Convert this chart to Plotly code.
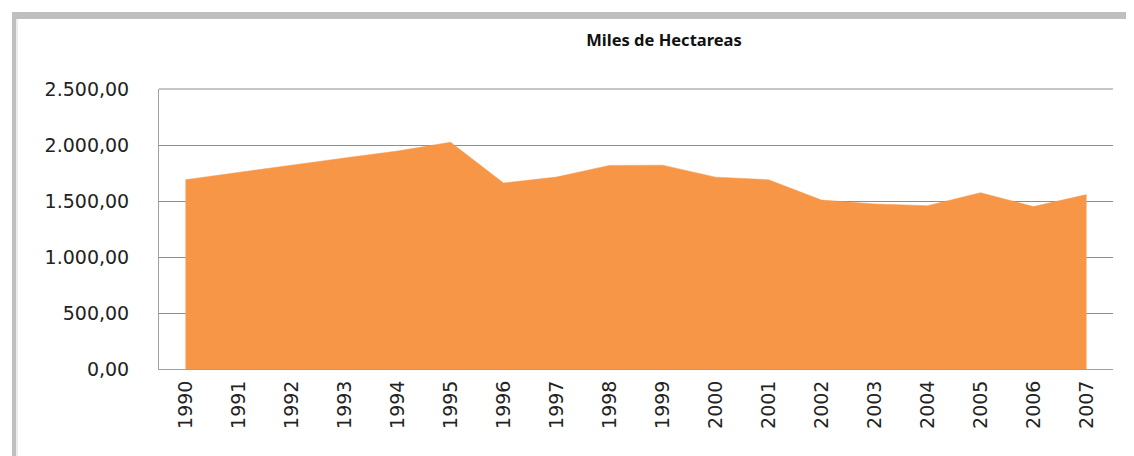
import plotly.graph_objects as go

years = [str(y) for y in range(1990, 2008)]
hectareas = [1690, 1757, 1820, 1884, 1946, 2025, 1660, 1714, 1818, 1820,
             1713, 1690, 1508, 1474, 1458, 1574, 1450, 1557]
y_ticks = [0, 500, 1000, 1500, 2000, 2500]

OFF = 8  # page body margin
W, H = 1134 - OFF, 456 - OFF
L, R, T, B = 159 - OFF, 1113 - OFF, 89 - OFF, 369 - OFF


def px(x):
    return (x - OFF - L) / (R - L)


def py(y):
    return (B - (y - OFF)) / (B - T)


fig = go.Figure()
fig.add_trace(go.Scatter(
    x=years, y=hectareas, mode="lines", fill="tozeroy",
    fillcolor="#F79646", line=dict(color="#F79646", width=0.5),
    hoverinfo="x+y", showlegend=False,
))

grey = "#BFBFBF"
shapes = [
    dict(type="rect", xref="paper", yref="paper", x0=px(12), x1=px(1140),
         y0=py(19), y1=py(12), fillcolor=grey, line=dict(width=0), layer="below"),
    dict(type="rect", xref="paper", yref="paper", x0=px(12), x1=px(16),
         y0=py(460), y1=py(12), fillcolor=grey, line=dict(width=0), layer="below"),
    dict(type="rect", xref="paper", yref="paper", x0=px(16.5), x1=px(17.5),
         y0=py(460), y1=py(19), fillcolor="#D9D9D9", line=dict(width=0), layer="below"),
]

fig.update_layout(
    width=W, height=H,
    margin=dict(l=L, r=W - R, t=T, b=H - B, pad=0),
    paper_bgcolor="white", plot_bgcolor="white",
    separators=",.",
    font=dict(family="DejaVu Sans, Noto Sans", size=19, color="#222222"),
    title=dict(text="<b>Miles de Hectareas</b>", x=(664 - OFF) / W, xref="container",
               xanchor="center",
               y=1 - (40 - OFF) / H, yanchor="middle", yref="container",
               font=dict(family="Noto Sans, Open Sans", size=16.5, color="#111111")),
    shapes=shapes,
    xaxis=dict(type="category", range=[-0.5, len(years) - 0.5], tickangle=-90,
               showgrid=False, showline=True, linecolor="#A0A0A0", linewidth=1,
               ticks="", ticklabelstandoff=3, fixedrange=True),
    yaxis=dict(range=[0, 2500], tickvals=y_ticks, tickformat=",.2f",
               showgrid=True, gridcolor="#8C8C8C", gridwidth=1,
               showline=True, linecolor="#A0A0A0", linewidth=1,
               zeroline=False, ticks="", ticklabelstandoff=25, fixedrange=True),
)
fig.add_shape(type="line", xref="paper", yref="paper", x0=0, x1=1, y0=1, y1=1,
              line=dict(color="#8C8C8C", width=1))

fig.write_html("out.html")
